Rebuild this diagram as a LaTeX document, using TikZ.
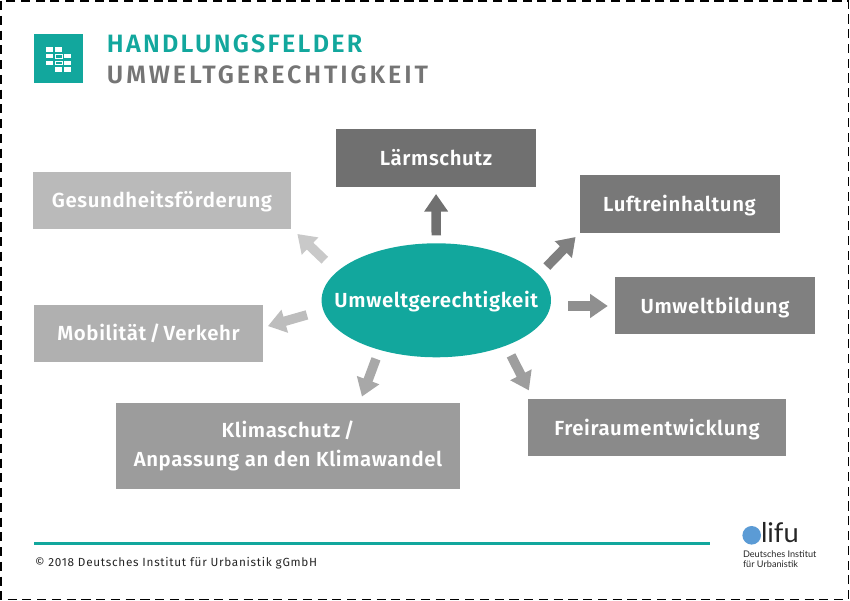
\documentclass[tikz,border=0pt]{standalone}
\usepackage{fontspec}
\usepackage{xcolor}
\usetikzlibrary{arrows.meta}
\usetikzlibrary{shapes.geometric}
\setmainfont{Fira Sans}
\newfontfamily\labelfont[LetterSpace=3,BoldFont={Fira Sans SemiBold}]{Fira Sans}
\newfontfamily\titlefont[LetterSpace=9,BoldFont={Fira Sans SemiBold}]{Fira Sans}
\newfontfamily\subtitlefont[LetterSpace=11.5,BoldFont={Fira Sans SemiBold}]{Fira Sans}
\newfontfamily\footfont[LetterSpace=6]{Fira Sans}
\newfontfamily\logofont{Lato}
\definecolor{difuteal}{HTML}{12A79D}
\definecolor{headgray}{HTML}{757575}
\definecolor{difublue}{HTML}{5B9BD5}
\tikzset{
	fieldbox/.style={inner sep=0pt, outer sep=0pt, text=white, align=center, text height=9.5pt, text depth=1.5pt, font=\labelfont\bfseries\fontsize{11.6}{16.4}\selectfont},
	blockarrow/.style={line width=5.4pt, -{Triangle[width=13pt,length=10pt]}},
	headline/.style={inner sep=0pt, outer sep=0pt, anchor=west},
	smalltext/.style={inner sep=0pt, outer sep=0pt, anchor=west}
}
\begin{document}
\begin{tikzpicture}[x=0.02cm, y=-0.02cm]
	\useasboundingbox (0,0) rectangle (850,601);
	\draw[line width=0.8pt, dash pattern=on 5.2pt off 3.2pt] (1,1) rectangle (848.5,599.5);
	
	\node[fill=difuteal, minimum width=0.98cm, minimum height=0.98cm, inner sep=0pt] (icon) at (58.5,58.5) {};
	\foreach \col/\row in {0/0,1/0,0/1,2/1,0/2,2/2,1/3,2/3} {
		\fill[white] (46+\col*9,47.3+\row*6.7) rectangle ++(7.3,4.5);
	}
	\foreach \row in {1,2} {
		\draw[white, line width=0.5pt] (55.3,47.6+\row*6.7) rectangle ++(6.7,3.9);
	}
	
	\node[headline, text=difuteal, font=\titlefont\bfseries\fontsize{14.3}{16}\selectfont] (title) at (107,43.5) {HANDLUNGSFELDER};
	\node[headline, text=headgray, font=\subtitlefont\bfseries\fontsize{14.3}{16}\selectfont] (subtitle) at (107,75) {UMWELTGERECHTIGKEIT};
	
	\node[ellipse, fill=difuteal, inner xsep=-14.5pt, inner ysep=0pt, outer sep=0pt, minimum width=229.4*0.02cm, minimum height=114*0.02cm, text=white, text height=9.5pt, text depth=1.5pt, font=\labelfont\bfseries\fontsize{11.6}{16}\selectfont] (umwelt) at (436.3,300.3) {Umweltgerechtigkeit};
	
	\node[fieldbox, fill=black!56, minimum width=200*0.02cm, minimum height=58*0.02cm] (laerm) at (436,158) {Lärmschutz};
	\node[fieldbox, fill=black!53, minimum width=200*0.02cm, minimum height=58*0.02cm] (luft) at (679.5,204) {Luftreinhaltung};
	\node[fieldbox, fill=black!50, minimum width=200*0.02cm, minimum height=57*0.02cm] (bildung) at (715,306) {Umweltbildung};
	\node[fieldbox, fill=black!46, minimum width=258*0.02cm, minimum height=57*0.02cm] (frei) at (657,428) {Freiraumentwicklung};
	\node[fieldbox, fill=black!39, text height=, text depth=, minimum width=344*0.02cm, minimum height=86*0.02cm] (klima) at (288,446) {Klimaschutz\,/\\Anpassung an den Klimawandel};
	\node[fieldbox, fill=black!31, minimum width=229*0.02cm, minimum height=57*0.02cm] (mobil) at (148.5,333.5) {Mobilität\,/\,Verkehr};
	\node[fieldbox, fill=black!27, minimum width=258*0.02cm, minimum height=57*0.02cm] (gesund) at (162,200.5) {Gesundheitsförderung};
	
	\draw[blockarrow, black!56, shorten <=4.5pt, shorten >=4pt] (umwelt.north) to (laerm.south);
	\draw[blockarrow, black!50, shorten <=6.5pt, shorten >=3.2pt] (umwelt.14.4) to (luft.south west);
	\draw[blockarrow, black!44, shorten <=9.8pt, shorten >=4.1pt] (umwelt.east |- bildung.west) to (bildung.west);
	\draw[blockarrow, black!38, shorten <=6.3pt, shorten >=5.8pt] (umwelt.-33.2) to (frei.167.5);
	\draw[blockarrow, black!34, shorten <=5.5pt, shorten >=3.9pt] (umwelt.-139.6) to (klima.31.7);
	\draw[blockarrow, black!26, shorten <=9.7pt, shorten >=2.9pt] (umwelt.-175.6) to (mobil.3);
	\draw[blockarrow, black!21, shorten <=9.6pt, shorten >=5pt] (umwelt.164.9) to (gesund.-12.8);
	
	\draw[difuteal, line width=1.2pt] (34,543.5) -- (710,543.5);
	\node[smalltext, font=\footfont\fontsize{6.7}{8}\selectfont, text=black!85] (copyright) at (35,563.5) {© 2018 Deutsches Institut für Urbanistik gGmbH};
	
	\node[circle, fill=difublue, inner sep=0pt, minimum size=18.6*0.02cm] (logodot) at (751.7,535.3) {};
	\node[smalltext, font=\logofont\fontsize{15.5}{18}\selectfont, text=black!85] (logoname) at (761,532.5) {lifu};
	\node[smalltext, font=\logofont\fontsize{5.2}{5.7}\selectfont, align=left, text=black!85] (logotext) at (743,559) {Deutsches Institut\\für Urbanistik};
\end{tikzpicture}
\end{document}
